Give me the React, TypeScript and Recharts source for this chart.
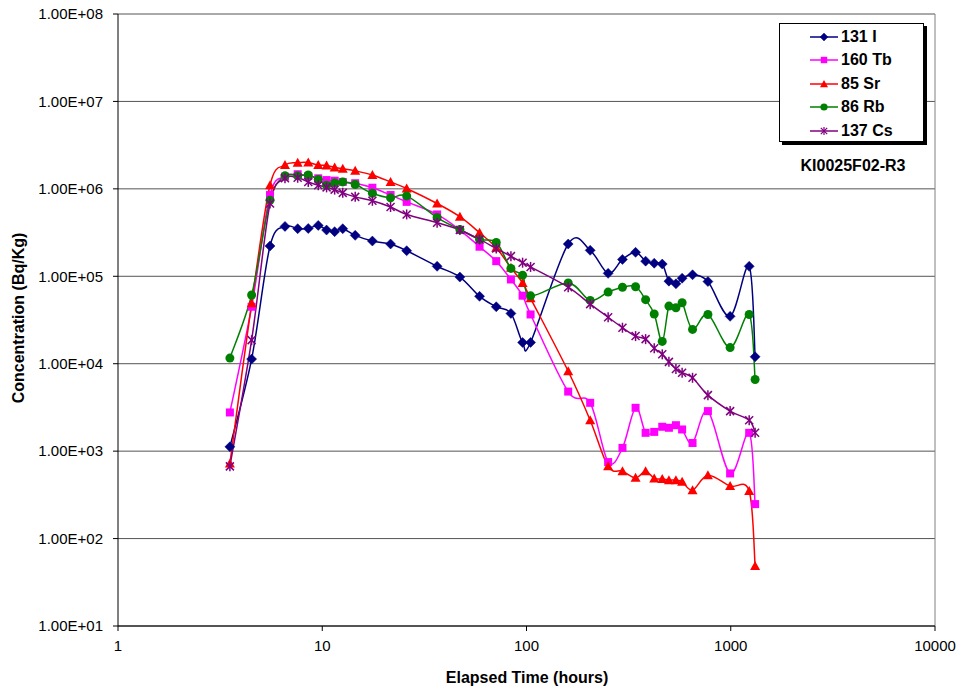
import React from "react";
import { ComposedChart, Line, XAxis, YAxis, CartesianGrid, ReferenceLine } from "recharts";

// Elapsed time (hours)
const times = [3.53, 4.51, 5.55, 6.57, 7.58, 8.54, 9.56, 10.5, 11.5, 12.6, 14.5, 17.6, 21.6, 25.9, 36.5, 47.2, 58.9, 71.1, 83.9, 95.7, 104.7, 160, 205, 251, 295, 342, 383, 422, 462, 498, 539, 578, 650, 773, 993, 1231, 1316];

const i131 = [1.12e3, 1.13e4, 2.22e5, 3.72e5, 3.5e5, 3.52e5, 3.82e5, 3.38e5, 3.24e5, 3.5e5, 2.94e5, 2.53e5, 2.34e5, 1.96e5, 1.3e5, 9.8e4, 5.9e4, 4.48e4, 3.76e4, 1.75e4, 1.75e4, 2.34e5, 1.98e5, 1.08e5, 1.56e5, 1.88e5, 1.49e5, 1.41e5, 1.38e5, 8.8e4, 8.2e4, 9.5e4, 1.04e5, 8.7e4, 3.48e4, 1.3e5, 1.2e4];
const tb160 = [2.77e3, 4.48e4, 8.5e5, 1.38e6, 1.47e6, 1.4e6, 1.32e6, 1.26e6, 1.24e6, 1.2e6, 1.16e6, 1.03e6, 8.5e5, 7.1e5, 5.1e5, 3.38e5, 2.18e5, 1.49e5, 9.2e4, 6.0e4, 3.66e4, 4.8e3, 3.57e3, 7.5e2, 1.09e3, 3.13e3, 1.62e3, 1.66e3, 1.9e3, 1.85e3, 1.98e3, 1.77e3, 1.24e3, 2.87e3, 5.56e2, 1.62e3, 2.48e2];
const sr85 = [7.2e2, 4.9e4, 1.1e6, 1.87e6, 1.99e6, 2.0e6, 1.87e6, 1.85e6, 1.76e6, 1.7e6, 1.61e6, 1.44e6, 1.2e6, 1.01e6, 6.8e5, 4.8e5, 3.15e5, 2.12e5, 1.25e5, 8.4e4, 5.6e4, 8.2e3, 2.26e3, 6.7e2, 5.9e2, 4.95e2, 5.9e2, 4.87e2, 4.8e2, 4.66e2, 4.66e2, 4.46e2, 3.58e2, 5.3e2, 3.98e2, 3.5e2, 48.7];
const rb86 = [1.16e4, 6.1e4, 7.4e5, 1.41e6, 1.41e6, 1.44e6, 1.28e6, 1.1e6, 1.17e6, 1.2e6, 1.12e6, 8.9e5, 7.9e5, 8.3e5, 4.7e5, 3.43e5, 2.64e5, 2.44e5, 1.23e5, 1.03e5, 5.97e4, 8.4e4, 5.3e4, 6.6e4, 7.5e4, 7.6e4, 5.4e4, 3.7e4, 1.8e4, 4.56e4, 4.36e4, 4.98e4, 2.47e4, 3.66e4, 1.53e4, 3.66e4, 6.6e3];
const cs137 = [6.7e2, 1.86e4, 6.8e5, 1.32e6, 1.34e6, 1.2e6, 1.1e6, 1.04e6, 9.8e5, 9.0e5, 8.1e5, 7.3e5, 6.2e5, 5.1e5, 4.1e5, 3.38e5, 2.64e5, 2.08e5, 1.7e5, 1.43e5, 1.28e5, 7.5e4, 4.8e4, 3.4e4, 2.58e4, 2.07e4, 1.91e4, 1.5e4, 1.28e4, 1.05e4, 8.7e3, 7.9e3, 6.9e3, 4.37e3, 2.87e3, 2.26e3, 1.62e3];

const xTicks = [1, 10, 100, 1000, 10000];
const yTicks = [10, 100, 1000, 10000, 100000, 1000000, 10000000, 100000000];
const sampleId = "KI0025F02-R3";

const seriesNames = ["131 I", "160 Tb", "85 Sr", "86 Rb", "137 Cs"];
const seriesValues = [i131, tb160, sr85, rb86, cs137];
const seriesColors = ["#000080", "#FF00FF", "#FF0000", "#008000", "#800080"];
const seriesShapes = ["diamond", "square", "triangle", "circle", "star"];

const data = times.map((t, i) => {
  const row: any = { t };
  seriesNames.forEach((n, k) => {
    row[n] = seriesValues[k][i];
  });
  return row;
});

const FONT = "'Liberation Sans', Arial, sans-serif";

// Excel-like smoothed line (Catmull-Rom through points in pixel space)
const excelSmooth = (context: any) => {
  let pts: number[][] = [];
  return {
    areaStart() {},
    areaEnd() {},
    lineStart() {
      pts = [];
    },
    point(x: number, y: number) {
      pts.push([+x, +y]);
    },
    lineEnd() {
      const n = pts.length;
      if (!n) return;
      context.moveTo(pts[0][0], pts[0][1]);
      for (let i = 0; i < n - 1; i++) {
        const p0 = pts[i - 1] || pts[i];
        const p1 = pts[i];
        const p2 = pts[i + 1];
        const p3 = pts[i + 2] || p2;
        context.bezierCurveTo(
          p1[0] + (p2[0] - p0[0]) / 6,
          p1[1] + (p2[1] - p0[1]) / 6,
          p2[0] - (p3[0] - p1[0]) / 6,
          p2[1] - (p3[1] - p1[1]) / 6,
          p2[0],
          p2[1]
        );
      }
    },
  };
};

function Marker({ shape, color, cx, cy }: any) {
  if (cx == null || cy == null || isNaN(cx) || isNaN(cy)) return null;
  switch (shape) {
    case "diamond":
      return <polygon points={`${cx},${cy - 5} ${cx + 5},${cy} ${cx},${cy + 5} ${cx - 5},${cy}`} fill={color} stroke={color} strokeWidth={0.5} />;
    case "square":
      return <rect x={cx - 4} y={cy - 4} width={8} height={8} fill={color} />;
    case "triangle":
      return <polygon points={`${cx},${cy - 5} ${cx + 5},${cy + 4} ${cx - 5},${cy + 4}`} fill={color} />;
    case "circle":
      return <circle cx={cx} cy={cy} r={4.5} fill={color} />;
    case "star":
      return (
        <g stroke={color} strokeWidth={1.5}>
          <line x1={cx - 4} y1={cy - 4} x2={cx + 4} y2={cy + 4} />
          <line x1={cx - 4} y1={cy + 4} x2={cx + 4} y2={cy - 4} />
          <line x1={cx} y1={cy - 5} x2={cx} y2={cy + 5} />
        </g>
      );
    default:
      return null;
  }
}

const fmtExp = (v: number) => {
  const e = Math.round(Math.log10(v));
  const m = v / Math.pow(10, e);
  return `${m.toFixed(2)}E+${String(e).padStart(2, "0")}`;
};

function LegendBox() {
  return (
    <div style={{ position: "absolute", left: 779, top: 23, width: 150, fontFamily: FONT }}>
      <div
        style={{
          border: "1px solid #000",
          boxShadow: "3px 3px 0 #000",
          background: "#fff",
          paddingTop: 1,
          width: 145,
          height: 119,
          boxSizing: "border-box",
        }}
      >
        {seriesNames.map((n, k) => (
          <div key={n} style={{ display: "flex", alignItems: "center", height: 23.5 }}>
            <svg width={32} height={14} style={{ marginLeft: 29, display: "block" }}>
              <line x1={1} y1={7} x2={29} y2={7} stroke={seriesColors[k]} strokeWidth={1.5} />
              <g transform="translate(15 7) scale(0.8) translate(-15 -7)">
                <Marker shape={seriesShapes[k]} color={seriesColors[k]} cx={15} cy={7} />
              </g>
            </svg>
            <span style={{ fontWeight: "bold", fontSize: 16, color: "#000", marginLeft: 0, lineHeight: "18px" }}>{n}</span>
          </div>
        ))}
      </div>
      <div style={{ position: "absolute", left: 0, top: 133, width: 148, textAlign: "center", fontWeight: "bold", fontSize: 16, lineHeight: "20px", color: "#000" }}>{sampleId}</div>
    </div>
  );
}

export default function App() {
  return (
    <div style={{ position: "absolute", left: 0, top: 0, width: 962, height: 693, background: "#fff" }}>
      <ComposedChart width={962} height={693} data={data} margin={{ top: 14, right: 27, bottom: 27, left: 0 }}>
        <CartesianGrid vertical={false} horizontal stroke="#555" strokeWidth={1} horizontalValues={yTicks} />
        <XAxis
          dataKey="t"
          type="number"
          scale="log"
          domain={[1, 10000]}
          ticks={xTicks}
          allowDataOverflow
          height={40}
          axisLine={{ stroke: "#000", strokeWidth: 1 }}
          tickLine={{ stroke: "#000" }}
          tickSize={5}
          tickMargin={9}
          tick={{ fill: "#000", fontSize: 15, fontFamily: FONT }}
          interval={0}
          label={{
            content: () => (
              <text x={527} y={683} textAnchor="middle" fontWeight="bold" fontSize={16} fontFamily={FONT} fill="#000">
                Elapsed Time (hours)
              </text>
            ),
          }}
        />
        <YAxis
          type="number"
          scale="log"
          domain={[10, 100000000]}
          ticks={yTicks}
          allowDataOverflow
          width={118}
          axisLine={{ stroke: "#000", strokeWidth: 1 }}
          tickLine={{ stroke: "#000" }}
          tickSize={5}
          tickMargin={10}
          tickFormatter={fmtExp}
          tick={{ fill: "#000", fontSize: 15, fontFamily: FONT }}
          interval={0}
          label={{
            content: () => (
              <text x={24} y={318} transform="rotate(-90 24 318)" textAnchor="middle" fontWeight="bold" fontSize={16} fontFamily={FONT} fill="#000">
                Concentration (Bq/Kg)
              </text>
            ),
          }}
        />
        <ReferenceLine x={10000} stroke="#808080" strokeWidth={1} ifOverflow="visible" />
        {seriesNames.map((n, k) => (
          <Line
            key={n}
            dataKey={n}
            name={n}
            type={excelSmooth as any}
            stroke={seriesColors[k]}
            strokeWidth={1.5}
            connectNulls
            isAnimationActive={false}
            dot={(p: any) => <Marker key={`${n}-${p.index}`} shape={seriesShapes[k]} color={seriesColors[k]} cx={p.cx} cy={p.cy} />}
            activeDot={false}
          />
        ))}
      </ComposedChart>
      <LegendBox />
    </div>
  );
}
